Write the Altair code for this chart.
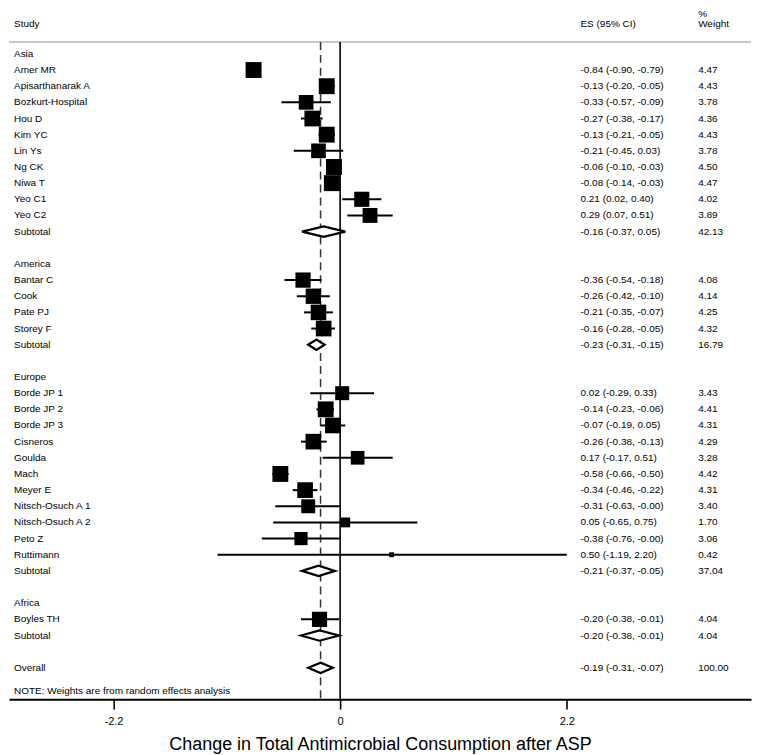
import altair as alt
import pandas as pd

# ---------------- data ----------------
region_names = ["Asia", "America", "Europe", "Africa"]

study_region = (["Asia"] * 10) + (["America"] * 4) + (["Europe"] * 11) + (["Africa"] * 1)
study_names = [
    "Amer MR", "Apisarthanarak A", "Bozkurt-Hospital", "Hou D", "Kim YC", "Lin Ys",
    "Ng CK", "Niwa T", "Yeo C1", "Yeo C2",
    "Bantar C", "Cook", "Pate PJ", "Storey F",
    "Borde JP 1", "Borde JP 2", "Borde JP 3", "Cisneros", "Goulda", "Mach", "Meyer E",
    "Nitsch-Osuch A 1", "Nitsch-Osuch A 2", "Peto Z", "Ruttimann",
    "Boyles TH",
]
study_es = [-0.84, -0.13, -0.33, -0.27, -0.13, -0.21, -0.06, -0.08, 0.21, 0.29,
            -0.36, -0.26, -0.21, -0.16,
            0.02, -0.14, -0.07, -0.26, 0.17, -0.58, -0.34, -0.31, 0.05, -0.38, 0.50,
            -0.20]
study_lo = [-0.90, -0.20, -0.57, -0.38, -0.21, -0.45, -0.10, -0.14, 0.02, 0.07,
            -0.54, -0.42, -0.35, -0.28,
            -0.29, -0.23, -0.19, -0.38, -0.17, -0.66, -0.46, -0.63, -0.65, -0.76, -1.19,
            -0.38]
study_hi = [-0.79, -0.05, -0.09, -0.17, -0.05, 0.03, -0.03, -0.03, 0.40, 0.51,
            -0.18, -0.10, -0.07, -0.05,
            0.33, -0.06, 0.05, -0.13, 0.51, -0.50, -0.22, -0.003, 0.75, -0.003, 2.20,
            -0.01]
study_weight = [4.47, 4.43, 3.78, 4.36, 4.43, 3.78, 4.50, 4.47, 4.02, 3.89,
                4.08, 4.14, 4.25, 4.32,
                3.43, 4.41, 4.31, 4.29, 3.28, 4.42, 4.31, 3.40, 1.70, 3.06, 0.42,
                4.04]

sub_es = [-0.16, -0.23, -0.21, -0.20]
sub_lo = [-0.37, -0.31, -0.37, -0.38]
sub_hi = [0.05, -0.15, -0.05, -0.01]
sub_weight = [42.13, 16.79, 37.04, 4.04]

overall_es = -0.19
overall_lo = -0.31
overall_hi = -0.07
overall_weight = 100.00

note_text = "NOTE: Weights are from random effects analysis"
x_title = "Change in Total Antimicrobial Consumption after ASP"
x_ticks = [-2.2, 0, 2.2]

# ---------------- table building (layout rows) ----------------
def ci_txt(e, l, h):
    return f"{e:.2f} ({l:.2f}, {h:.2f})"

text_rows, study_rows, diamond_rows = [], [], []
row = 0
for gi, reg in enumerate(region_names):
    text_rows.append(dict(row=row, label=reg, est="", wt=""))
    row += 1
    for i, r in enumerate(study_region):
        if r != reg:
            continue
        text_rows.append(dict(row=row, label=study_names[i],
                              est=ci_txt(study_es[i], study_lo[i], study_hi[i]),
                              wt=f"{study_weight[i]:.2f}"))
        study_rows.append(dict(row=row, es=study_es[i], lo=study_lo[i],
                               hi=study_hi[i], w=study_weight[i]))
        row += 1
    text_rows.append(dict(row=row, label="Subtotal",
                          est=ci_txt(sub_es[gi], sub_lo[gi], sub_hi[gi]),
                          wt=f"{sub_weight[gi]:.2f}"))
    diamond_rows.append(dict(row=row, es=sub_es[gi], lo=sub_lo[gi], hi=sub_hi[gi], g=reg))
    row += 2
text_rows.append(dict(row=row, label="Overall",
                      est=ci_txt(overall_es, overall_lo, overall_hi),
                      wt=f"{overall_weight:.2f}"))
diamond_rows.append(dict(row=row, es=overall_es, lo=overall_lo, hi=overall_hi, g="Overall"))
note_row = row + 1.45

H = 0.32  # diamond half height in rows
dpts = []
for d in diamond_rows:
    dpts.append(dict(g=d["g"], k=0, x=d["lo"], y=d["row"]))
    dpts.append(dict(g=d["g"], k=1, x=d["es"], y=d["row"] - H))
    dpts.append(dict(g=d["g"], k=2, x=d["hi"], y=d["row"]))
    dpts.append(dict(g=d["g"], k=3, x=d["es"], y=d["row"] + H))

texts = pd.DataFrame(text_rows)
studies = pd.DataFrame(study_rows)
diamonds = pd.DataFrame(dpts)

Y_TOP, Y_BOT = -2.778, 39.938
HEADER_ROW = -0.74
HEAD_TXT_ROW = -1.85
PCT_ROW = -2.469
yscale = alt.Scale(domain=[Y_TOP, Y_BOT], reverse=True, nice=False, zero=False)
xscale = alt.Scale(domain=[-3.214, 3.988], nice=False, zero=False)
FONT = "Liberation Sans"
xaxis = alt.Axis(values=x_ticks, labelExpr="toString(datum.value)", grid=False,
                 domainColor="black", domainWidth=2, tickColor="black", tickWidth=1.6,
                 tickSize=10, labelFontSize=11, labelPadding=6, labelColor="black",
                 labelFont=FONT, titleFont=FONT, titleFontSize=18,
                 titleFontWeight="normal", titleColor="black", titlePadding=9)


def X(field):
    return alt.X(field, type="quantitative", scale=xscale, axis=xaxis, title=x_title)


def Y(field):
    return alt.Y(field, type="quantitative", scale=yscale, axis=None)


W, HGT = 744, 692

# header line
hdr = alt.Chart(pd.DataFrame({"r": [HEADER_ROW]})).mark_rule(
    color="#b4b4b4", strokeWidth=1.5).encode(
    x=alt.value(0), x2=alt.value(W), y=Y("r"))

# reference lines
refs = pd.DataFrame({"x": [0.0], "y1": [HEADER_ROW], "y2": [Y_BOT]})
zero_line = alt.Chart(refs).mark_rule(color="black", strokeWidth=1.6).encode(
    x=X("x"), y=Y("y1"), y2="y2:Q")
ovr = pd.DataFrame({"x": [overall_es], "y1": [HEADER_ROW], "y2": [Y_BOT]})
dash_line = alt.Chart(ovr).mark_rule(color="#333333", strokeWidth=1.5,
                                     strokeDash=[8, 5]).encode(
    x=X("x"), y=Y("y1"), y2="y2:Q")

ci = alt.Chart(studies).mark_rule(color="black", strokeWidth=2).encode(
    x=X("lo"), x2="hi:Q", y=Y("row"))

squares = alt.Chart(studies).mark_square(color="black", opacity=1, strokeWidth=0).encode(
    x=X("es"), y=Y("row"),
    size=alt.Size("w:Q", scale=alt.Scale(type="linear", domain=[0, 4.47], range=[0, 256]),
                  legend=None))

diam = alt.Chart(diamonds).mark_line(fill="white", stroke="black", color="black",
                                     strokeWidth=2.2, opacity=1, fillOpacity=1,
                                     interpolate="linear-closed",
                                     strokeJoin="miter").encode(
    x=X("x"), y=Y("y"), detail="g:N", order="k:Q")


def txt(df, field, xpix, size=10):
    return alt.Chart(df).mark_text(align="left", baseline="middle", font=FONT,
                                   fontSize=size, color="black").encode(
        x=alt.value(xpix), y=Y("row"), text=f"{field}:N")


labels = txt(texts, "label", 5)
ests = txt(texts, "est", 573)
wts = txt(texts, "wt", 691)

head_study = txt(pd.DataFrame({"row": [HEAD_TXT_ROW], "t": ["Study"]}), "t", 5)
head_es = txt(pd.DataFrame({"row": [HEAD_TXT_ROW], "t": ["ES (95% CI)"]}), "t", 573)
head_w = txt(pd.DataFrame({"row": [HEAD_TXT_ROW], "t": ["Weight"]}), "t", 691)
head_pct = txt(pd.DataFrame({"row": [PCT_ROW], "t": ["%"]}), "t", 691)
note = txt(pd.DataFrame({"row": [note_row], "t": [note_text]}), "t", 5)

chart = alt.layer(
    hdr, dash_line, zero_line, ci, squares, diam,
    labels, ests, wts, head_study, head_es, head_w, head_pct, note
).properties(
    width=W, height=HGT, padding={"left": 0, "right": 0, "top": 0, "bottom": 0}
).configure_view(stroke=None)

chart.save("out.html", embed_options={"renderer": "svg", "actions": False})
